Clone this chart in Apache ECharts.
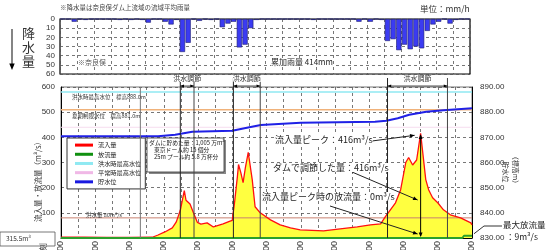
<!DOCTYPE html>
<html>
<head>
<meta charset="utf-8">
<script src="https://cdn.jsdelivr.net/npm/echarts@6/dist/echarts.min.js"></script>
<style>
  html, body { margin: 0; padding: 0; background: #fff; }
  #chart { width: 547px; height: 250px; }
</style>
</head>
<body>
<div id="chart"></div>
<script>
// 降水量 (mm/h), 1時間毎 72本
const rainfall = [
  0, 0, 3, 0, 1, 0, 0, 0, 0, 0, 1, 0, 1, 0, 1, 4, 0, 0, 3, 6, 1, 36, 26, 0,
  2, 0, 1, 0, 9, 5, 3, 31, 28, 10, 1, 0, 0, 0, 0, 0, 0, 0, 0, 0, 1, 0, 0, 0,
  0, 0, 0, 0, 3, 0, 3, 0, 1, 24, 22, 34, 28, 33, 30, 32, 13, 6, 3, 0, 5, 1, 0, 0
];

// 流入量 (m3/s)
const inflowTime = [0, 4, 8, 12, 16, 17, 18.2, 19.5, 20.2, 20.9, 21.6, 21.9, 22.6, 23.2, 23.9, 24.5, 25.6, 26.7, 28.4, 29.5, 30,
  30.4, 30.9, 31.1, 31.5, 31.9, 32.3, 32.8, 33.5, 34, 34.9, 36.7, 38.4, 40.2, 41.9, 46, 48.9, 51.9, 54.2, 56, 56.8,
  57.7, 58.6, 59.5, 60.4, 60.9, 61.6, 62.3, 63, 63.9, 64.4, 65.1, 66, 67, 68.2, 70, 71.8, 72];
const inflowFlow = [3, 3, 2, 2, 3, 12, 24, 40, 64, 110, 188, 150, 135, 100, 62, 55, 60, 44, 56, 66, 70,
  140, 244, 292, 260, 220, 280, 340, 232, 124, 100, 72, 52, 40, 32, 28, 36, 44, 52, 56, 84,
  112, 140, 192, 300, 320, 290, 310, 416, 232, 192, 160, 140, 112, 92, 80, 60, 52];

// 放流量 (m3/s)
const outflowTime = [0, 70.3, 70.6, 72];
const outflowFlow = [0, 0, 9, 9];

// 貯水位 (標高m)
const levelTime = [0, 17, 20, 23, 30, 33, 35, 42, 55, 57, 59, 61, 64, 67, 72];
const levelValue = [870.4, 870.4, 871, 872.2, 872.6, 874, 874.9, 875.8, 876.2, 876.6, 877.6, 879, 880.2, 880.8, 881.6];

const floodMaxLevel = 888.0;
const summerLimitLevel = 881.0;
const normalMaxLevel = 874.0;
const floodFlow = 80;

// 洪水調節期間 (時)
const controlPeriods = [[20.9, 23.3], [30.2, 34.9], [57.2, 67.7]];
const markerHour = 13.9;
const peakHour = 63;
const peakFlow = 416;

const xTicks = [0, 6, 12, 18, 24, 30, 36, 42, 48, 54, 60, 66, 72];

const FONT = '"Noto Sans CJK JP", "Liberation Sans", sans-serif';
const NUM = '"Liberation Sans", Arial, sans-serif';

const chart = echarts.init(document.getElementById('chart'), null, { renderer: 'canvas' });

const pair = (ts, vs) => ts.map((t, i) => [t, vs[i]]);

const option = {
  animation: false,
  textStyle: { fontFamily: FONT },
  grid: [
    { left: 60, top: 19, width: 410, height: 55, show: true, borderColor: '#000', borderWidth: 1.2, backgroundColor: '#fff', outerBoundsMode: 'none', containLabel: false },
    { left: 61, top: 87, width: 411, height: 151, show: true, borderColor: '#777', borderWidth: 1, outerBoundsMode: 'none', containLabel: false }
  ],
  xAxis: [
    {
      gridIndex: 0, type: 'category', data: rainfall.map((_, i) => i), boundaryGap: true,
      axisLine: { show: false }, axisTick: { show: false }, axisLabel: { show: false },
      splitLine: { show: true, interval: 2, lineStyle: { color: '#555', type: [3, 3], width: 0.8 } }
    },
    {
      gridIndex: 1, type: 'value', min: 0, max: 72, interval: 3,
      axisLine: { show: true, lineStyle: { color: '#000', width: 1 } },
      axisTick: { show: false },
      axisLabel: {
        rotate: 90, fontSize: 9, fontFamily: NUM, color: '#333', margin: 3,
        formatter: v => (xTicks.indexOf(v) >= 0 ? (v % 24) + ':00' : '')
      },
      splitLine: { show: true, lineStyle: { color: '#555', type: [3, 3], width: 0.8 } }
    }
  ],
  yAxis: [
    {
      gridIndex: 0, type: 'value', inverse: true, min: 0, max: 60, interval: 10,
      axisLine: { show: false }, axisTick: { show: false },
      axisLabel: { fontSize: 8, fontFamily: NUM, color: '#333', margin: 5 },
      splitLine: { show: true, lineStyle: { color: '#555', type: [3, 3], width: 0.8 } }
    },
    {
      gridIndex: 1, type: 'value', min: 0, max: 600, interval: 100,
      axisLine: { show: true, lineStyle: { color: '#000' } }, axisTick: { show: false },
      axisLabel: { fontSize: 8, fontFamily: NUM, color: '#333', margin: 6 },
      splitLine: { show: true, lineStyle: { color: '#555', type: [3, 3], width: 0.8 } }
    },
    {
      gridIndex: 1, type: 'value', position: 'right', min: 830, max: 890, interval: 10,
      axisLine: { show: true, lineStyle: { color: '#000' } }, axisTick: { show: false },
      axisLabel: { fontSize: 8, fontFamily: NUM, color: '#333', margin: 8, formatter: v => v.toFixed(2) },
      splitLine: { show: false }
    }
  ],
  legend: {
    orient: 'vertical', left: 67, top: 138,
    backgroundColor: '#fff', borderColor: '#333', borderWidth: 1,
    padding: [4, 4, 4, 8], itemWidth: 18, itemHeight: 3, itemGap: 3, icon: 'rect',
    textStyle: { fontSize: 6.2, fontFamily: FONT, color: '#222' },
    data: ['流入量', '放流量', '洪水時最高水位', '平常時最高水位', '貯水位']
  },
  series: [
    {
      name: '降水量', type: 'bar', xAxisIndex: 0, yAxisIndex: 0, data: rainfall,
      barCategoryGap: '8%',
      itemStyle: { color: '#3b3bf2', borderColor: '#1c1c70', borderWidth: 0.6 }
    },
    {
      name: '洪水時最高水位', type: 'line', xAxisIndex: 1, yAxisIndex: 2, symbol: 'none',
      data: [[0, floodMaxLevel], [72, floodMaxLevel]],
      itemStyle: { color: '#8fe9f2' }, lineStyle: { color: '#8fe9f2', width: 1.5 }
    },
    {
      name: '夏期制限水位', type: 'line', xAxisIndex: 1, yAxisIndex: 2, symbol: 'none',
      data: [[0, summerLimitLevel], [72, summerLimitLevel]],
      lineStyle: { color: '#f0b27a', width: 1.5 }
    },
    {
      name: '平常時最高水位', type: 'line', xAxisIndex: 1, yAxisIndex: 2, symbol: 'none',
      data: [[0, normalMaxLevel], [72, normalMaxLevel]],
      itemStyle: { color: '#f0b8e6' }, lineStyle: { color: '#f6dcef', width: 1 }
    },
    {
      name: '洪水量', type: 'line', xAxisIndex: 1, yAxisIndex: 1, symbol: 'none',
      data: [[0, floodFlow], [72, floodFlow]],
      lineStyle: { color: '#c98070', width: 1 }
    },
    {
      name: '流入量', type: 'line', xAxisIndex: 1, yAxisIndex: 1, symbol: 'none',
      data: pair(inflowTime, inflowFlow),
      itemStyle: { color: '#ff0000' }, lineStyle: { color: '#ff1010', width: 1.3 },
      areaStyle: { color: '#ffff40', opacity: 1 }, z: 3
    },
    {
      name: '放流量', type: 'line', xAxisIndex: 1, yAxisIndex: 1, symbol: 'none',
      data: pair(outflowTime, outflowFlow),
      itemStyle: { color: '#109010' }, lineStyle: { color: '#2aa02a', width: 2 }, z: 4
    },
    {
      name: '貯水位', type: 'line', xAxisIndex: 1, yAxisIndex: 2, symbol: 'none',
      data: pair(levelTime, levelValue),
      itemStyle: { color: '#1a1ae0' }, lineStyle: { color: '#2020e6', width: 2 }, z: 5
    }
  ]
};

chart.setOption(option);

// ---- annotations, positioned through the axes ----
const px = (h, v) => chart.convertToPixel({ xAxisIndex: 1, yAxisIndex: 1 }, [h, v]);
const lvY = v => chart.convertToPixel({ xAxisIndex: 1, yAxisIndex: 2 }, [0, v])[1];

function text(x, y, str, size, extra) {
  return {
    type: 'text', x: x, y: y, z: 50,
    style: Object.assign({ text: str, fontSize: size, fontFamily: FONT, fill: '#222' }, extra || {})
  };
}
function line(x1, y1, x2, y2, color, width) {
  return { type: 'line', z: 40, shape: { x1, y1, x2, y2 }, style: { stroke: color || '#000', lineWidth: width || 1 } };
}
function head(x1, y1, x2, y2, size) {
  const a = Math.atan2(y2 - y1, x2 - x1), s = size || 5;
  return {
    type: 'polygon', z: 41,
    shape: { points: [[x2, y2], [x2 - s * Math.cos(a - 0.4), y2 - s * Math.sin(a - 0.4)], [x2 - s * Math.cos(a + 0.4), y2 - s * Math.sin(a + 0.4)]] },
    style: { fill: '#000' }
  };
}
function arrow(x1, y1, x2, y2) { return [line(x1, y1, x2, y2, '#222', 1), head(x1, y1, x2, y2, 5)]; }

const g = [];
const plotTop = px(0, 600)[1], plotBottom = px(0, 0)[1];

// 上段
g.push(text(60, 4, '※降水量は奈良俣ダム上流域の流域平均雨量', 6.5, { fill: '#444' }));
g.push(text(420, 5, '単位：mm/h', 8.5, { fill: '#333' }));
g.push(text(22, 26, '降\n水\n量', 13, { lineHeight: 14, fill: '#333' }));
g.push(line(12, 29, 12, 64, '#333', 1.2));
g.push(head(12, 29, 12, 70, 7));
g.push(text(78, 59, '※奈良俣', 7, { fill: '#555', backgroundColor: '#fff' }));
g.push(text(271, 58, '累加雨量 414mm', 8, { fill: '#222', backgroundColor: '#fff' }));

// 軸名
g.push({ type: 'text', x: 38, y: 180, rotation: Math.PI / 2, z: 50,
  style: { text: '流入量・放流量（m³/s）', fontSize: 7.5, fontFamily: FONT, fill: '#333', align: 'center', verticalAlign: 'middle' } });
g.push({ type: 'text', x: 506, y: 172, rotation: -Math.PI / 2, z: 50,
  style: { text: '貯水位', fontSize: 7, fontFamily: FONT, fill: '#333', align: 'center', verticalAlign: 'middle' } });
g.push({ type: 'text', x: 516, y: 170, rotation: -Math.PI / 2, z: 50,
  style: { text: '（標高m）', fontSize: 7, fontFamily: FONT, fill: '#333', align: 'center', verticalAlign: 'middle' } });
g.push({ type: 'text', x: 43, y: 243, rotation: Math.PI / 2, z: 50,
  style: { text: '時刻', fontSize: 8, fontFamily: FONT, fill: '#333', align: 'right', verticalAlign: 'middle' } });

// 315.5m3
g.push({ type: 'rect', z: 40, shape: { x: 0, y: 232, width: 55, height: 14 }, style: { fill: '#fff', stroke: '#555', lineWidth: 0.8 } });
g.push(text(6, 235, '315.5m³', 6.5, { fill: '#333' }));

// 水位ラベル
g.push(text(72, lvY(floodMaxLevel) + 2, '洪水時最高水位　標高888.0m', 5.5, { fill: '#333' }));
g.push(text(72, lvY(summerLimitLevel) + 4, '夏期制限水位　標高881.0m', 5.5, { fill: '#333' }));
g.push(text(86, px(0, floodFlow)[1] - 6, '洪水量 80m³/s', 5.5, { fill: '#333' }));

// ダムに貯めた量
g.push({ type: 'rect', z: 39, shape: { x: 149, y: 140, width: 77, height: 34 }, style: { fill: '#888' } });
g.push({ type: 'rect', z: 40, shape: { x: 147, y: 138, width: 77, height: 34 }, style: { fill: '#fff', stroke: '#333', lineWidth: 0.8 } });
g.push(text(149, 140, 'ダムに貯めた量：1,005 万m³', 5.8, { fill: '#222' }));
g.push(text(154, 147, '東京ドーム約 15 個分', 5.8, { fill: '#222' }));
g.push(text(154, 154, '25m プール約 5.8 万杯分', 5.8, { fill: '#222' }));

// 洪水調節
const mk = px(markerHour, 0)[0];
g.push(line(mk, plotTop, mk, plotBottom, '#777', 1));
controlPeriods.forEach(p => {
  const xa = px(p[0], 0)[0], xb = px(p[1], 0)[0];
  g.push(line(xa, plotTop - 9, xa, plotBottom, '#222', 1));
  g.push(line(xb, plotTop - 9, xb, plotBottom, '#444', 1));
  g.push(line(xa, plotTop - 1, xb, plotTop - 1, '#222', 0.8));
  g.push(head(xb, plotTop - 1, xa, plotTop - 1, 4));
  g.push(head(xa, plotTop - 1, xb, plotTop - 1, 4));
  g.push(text((xa + xb) / 2, plotTop - 12, '洪水調節', 7, { fill: '#333', align: 'center', backgroundColor: '#fff' }));
});

// ピーク
const pk = px(peakHour, peakFlow), pb = px(peakHour, 0);
g.push(line(pk[0], pk[1] + 2, pb[0], pb[1] - 2, '#000', 1));
g.push(head(pk[0], pb[1], pk[0], pk[1] + 1, 5));
g.push(head(pk[0], pk[1], pb[0], pb[1] - 1, 5));
g.push(text(275, 135, '流入量ピーク：416m³/s', 9, { backgroundColor: '#fff' }));
g.push(...arrow(372, 141, pk[0] - 6, pk[1] + 2));
g.push(text(273, 163, 'ダムで調節した量：416m³/s', 9, { backgroundColor: '#fff' }));
g.push(...arrow(352, 172, pk[0] - 3, 200));
g.push(text(262, 192, '流入量ピーク時の放流量：0m³/s', 9, { backgroundColor: '#fff' }));
g.push(...arrow(330, 206, pb[0] - 3, pb[1] - 4));

// 最大放流量
const om = px(72, 9);
g.push({ type: 'polyline', z: 40, shape: { points: [[om[0] + 2, om[1] - 2], [om[0] + 12, 226], [om[0] + 30, 226]] }, style: { stroke: '#333', lineWidth: 1 } });
g.push(text(503, 221, '最大放流量', 8.5));
g.push(text(506, 233, '：9m³/s', 8.5));

chart.setOption({ graphic: { elements: g } });

window.addEventListener('resize', () => chart.resize());
</script>
</body>
</html>
